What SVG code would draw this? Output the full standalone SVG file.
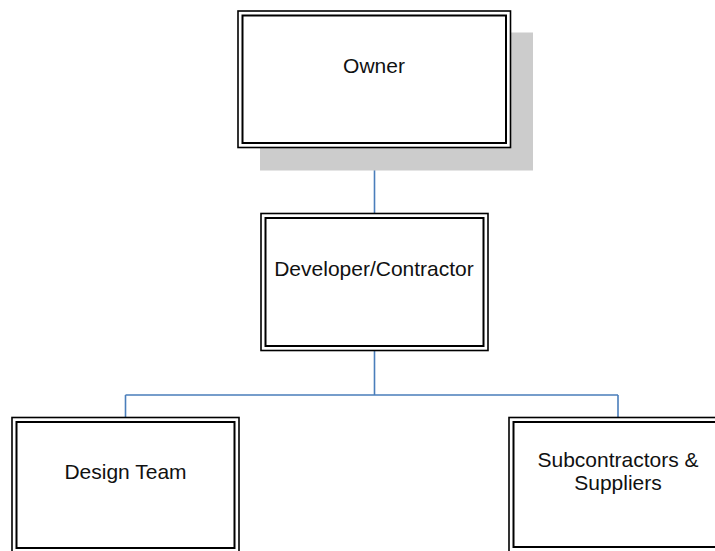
<svg xmlns="http://www.w3.org/2000/svg" width="715" height="551" viewBox="0 0 715 551">
  <style>
    .outer { fill: #ffffff; stroke: #000000; stroke-width: 1.6; }
    .inner { fill: none; stroke: #000000; stroke-width: 2; }
    .label { font-family: "Liberation Sans", Arial, sans-serif; font-size: 21px; fill: #111111; text-anchor: middle; }
    .conn { fill: none; stroke: #4a7ebb; stroke-width: 1.6; }
  </style>
  <rect width="715" height="551" fill="#ffffff"/>

  <!-- connectors -->
  <g id="connectors">
    <path class="conn" d="M374.5 148 V213.5"/>
    <path class="conn" d="M374.5 351 V395 M125.5 395 H618 M125.5 395 V417.5 M618 395 V417.5"/>
  </g>

  <!-- top node with drop shadow -->
  <g id="owner">
    <rect x="260" y="32.5" width="273" height="138" fill="#cccccc"/>
    <rect class="outer" x="238" y="11" width="272.5" height="136.5"/>
    <rect class="inner" x="242.5" y="15.5" width="263.5" height="127.5"/>
    <text class="label" x="374" y="73">Owner</text>
  </g>

  <g id="developer">
    <rect class="outer" x="261" y="213.5" width="227" height="137"/>
    <rect class="inner" x="265.5" y="218" width="218" height="128"/>
    <text class="label" x="374" y="276">Developer/Contractor</text>
  </g>

  <g id="design-team">
    <rect class="outer" x="12" y="417.5" width="227" height="136"/>
    <rect class="inner" x="16.5" y="422" width="218" height="126"/>
    <text class="label" x="125.5" y="479">Design Team</text>
  </g>

  <g id="subcontractors">
    <rect class="outer" x="509" y="417.5" width="227" height="136"/>
    <rect class="inner" x="513.5" y="422" width="218" height="125"/>
    <text class="label" x="618" y="467">Subcontractors &amp;</text>
    <text class="label" x="618" y="490">Suppliers</text>
  </g>
</svg>
